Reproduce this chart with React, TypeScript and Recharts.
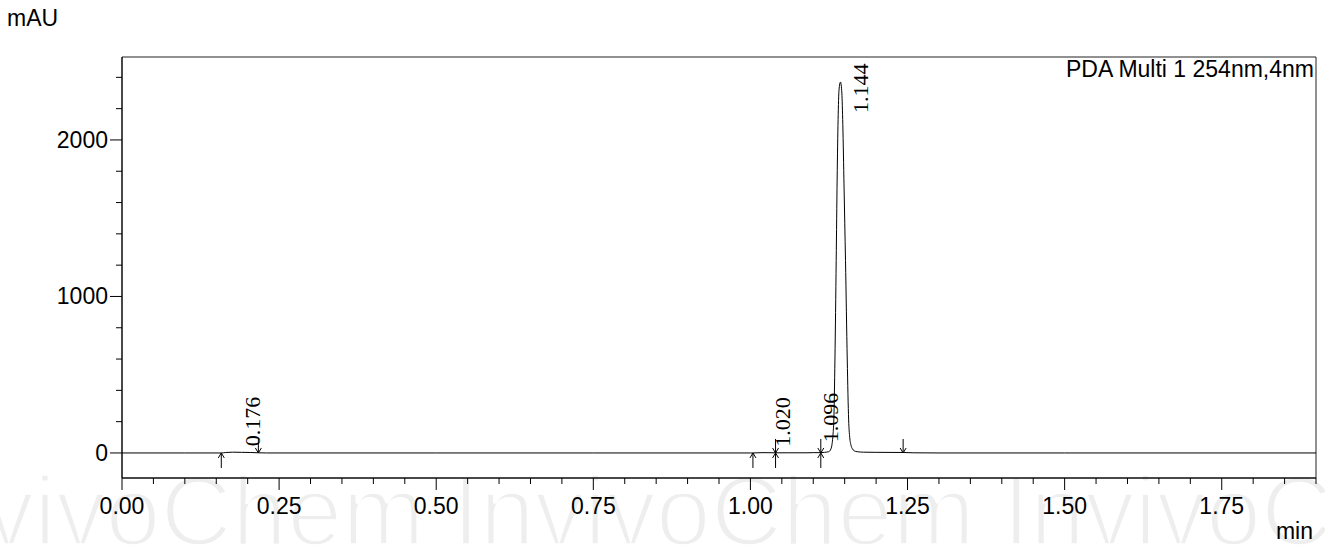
import { LineChart, Line, XAxis, YAxis, ReferenceDot, ReferenceArea } from 'recharts';

// retention time (min) and absorbance (mAU)
const times = [
  0, 0.1, 0.158, 0.165, 0.176, 0.19, 0.205, 0.217, 0.23, 0.5, 0.75, 1.0, 1.003, 1.02, 1.04, 1.06, 1.09, 1.1,
  1.1115, 1.118, 1.1246, 1.128, 1.13, 1.1315, 1.1327, 1.1345, 1.1365, 1.138, 1.1395, 1.141, 1.1433,
  1.1455, 1.147, 1.149, 1.1513, 1.1541, 1.1563, 1.158, 1.16, 1.1625, 1.165, 1.17, 1.18, 1.2, 1.243,
  1.26, 1.3, 1.5, 1.9,
];
const mAU = [
  0, 0, 0, 3, 5, 4, 3, 1, 0, 0, 0, 0, 0, 2, 1, 1, 1, 2,
  2, 4, 8, 25, 60, 120, 210, 600, 1230, 1750, 2130, 2320, 2370,
  2300, 2100, 1700, 1230, 594, 211, 100, 50, 25, 14, 8, 5, 4, 3,
  1, 0, 0, 0,
];

const peakTimes = [0.176, 1.02, 1.096, 1.144];
const peakHeights = [5, 2, 30, 2370];

const markerTimes = [0.158, 0.217, 1.004, 1.04, 1.112, 1.243];
const markerKinds = ['up', 'down', 'up', 'cross', 'cross', 'down'];

const xTicks = [
  0, 0.05, 0.1, 0.15, 0.2, 0.25, 0.3, 0.35, 0.4, 0.45, 0.5, 0.55, 0.6, 0.65, 0.7, 0.75, 0.8, 0.85, 0.9,
  0.95, 1.0, 1.05, 1.1, 1.15, 1.2, 1.25, 1.3, 1.35, 1.4, 1.45, 1.5, 1.55, 1.6, 1.65, 1.7, 1.75, 1.8, 1.85, 1.9,
];
const yTicks = [0, 200, 400, 600, 800, 1000, 1200, 1400, 1600, 1800, 2000, 2200, 2400];

const data = times.map((t, i) => ({ t, v: mAU[i] }));

const W = 1325;
const H = 546;
const MARGIN = { top: 57, right: 9, bottom: 28, left: 62 };
const SANS = '"Liberation Sans", Arial, sans-serif';
const SERIF = '"Liberation Serif", "Times New Roman", serif';

const XTick = (props: any) => {
  const { x, y, payload } = props;
  const v = payload.value;
  const major = Math.abs(v * 4 - Math.round(v * 4)) < 1e-6;
  return (
    <g>
      <line x1={x} y1={y} x2={x} y2={y + (major ? 12 : 6)} stroke="#000" />
      {major && (
        <text x={x} y={y + 36} textAnchor="middle" fontSize={23} fontFamily={SANS} fill="#000">
          {v.toFixed(2)}
        </text>
      )}
    </g>
  );
};

const YTick = (props: any) => {
  const { x, y, payload } = props;
  const v = payload.value;
  const major = v % 1000 === 0;
  return (
    <g>
      <line x1={x - (major ? 12 : 6)} y1={y} x2={x} y2={y} stroke="#000" />
      {major && (
        <text x={x - 14} y={y + 8} textAnchor="end" fontSize={23} fontFamily={SANS} fill="#000">
          {v}
        </text>
      )}
    </g>
  );
};

const arrow = (kind: string) => (props: any) => {
  const { cx, cy } = props;
  const up = (
    <g key="u">
      <line x1={cx} y1={cy} x2={cx} y2={cy + 15} stroke="#000" />
      <polyline points={`${cx - 3},${cy + 5} ${cx},${cy} ${cx + 3},${cy + 5}`} fill="none" stroke="#000" />
    </g>
  );
  const down = (
    <g key="d">
      <line x1={cx} y1={cy - 14} x2={cx} y2={cy} stroke="#000" />
      <polyline points={`${cx - 3},${cy - 5} ${cx},${cy} ${cx + 3},${cy - 5}`} fill="none" stroke="#000" />
    </g>
  );
  if (kind === 'up') return up;
  if (kind === 'down') return down;
  return <g>{up}{down}</g>;
};

const peakLabel = (text: string) => (props: any) => {
  const { cx, cy } = props;
  const x = cx + 27;
  const y = Math.max(cy - 6, MARGIN.top + 7 + 49);
  return (
    <text x={x} y={y} transform={`rotate(-90, ${x}, ${y})`} fontSize={22} fontFamily={SERIF} fill="#000">
      {text}
    </text>
  );
};

export default function App() {
  return (
    <div style={{ position: 'absolute', left: 0, top: 0, width: W, height: H, background: '#fff' }}>
      <svg width={W} height={H} style={{ position: 'absolute', left: 0, top: 0 }}>
        {/* white stroke over the fill thins the glyphs to look like a light face */}
        <text
          x={-98}
          y={545}
          fontSize={99}
          fontFamily={SANS}
          fill="#eeeeee"
          stroke="#fff"
          strokeWidth={3.5}
          style={{ paintOrder: 'fill stroke' }}
        >
          InvivoChem InvivoChem InvivoChem
        </text>
        <text x={7} y={26} fontSize={23} fontFamily={SANS} fill="#000">mAU</text>
        <text x={1313} y={539} textAnchor="end" fontSize={23} fontFamily={SANS} fill="#000">min</text>
        <text x={1314} y={77} textAnchor="end" fontSize={23} fontFamily={SANS} fill="#000">
          PDA Multi 1 254nm,4nm
        </text>
      </svg>
      <div style={{ position: 'absolute', left: 0, top: 0 }}>
        <LineChart width={W} height={H} data={data} margin={MARGIN}>
          <ReferenceArea x1={0} x2={1.9} y1={-160} y2={2530} fill="none" stroke="#222" ifOverflow="visible" />
          <XAxis
            dataKey="t"
            type="number"
            domain={[0, 1.9]}
            ticks={xTicks}
            interval={0}
            height={40}
            tickSize={0}
            tickMargin={0}
            tickLine={false}
            tick={XTick}
            axisLine={{ stroke: '#000' }}
            allowDataOverflow
          />
          <YAxis
            type="number"
            domain={[-160, 2530]}
            ticks={yTicks}
            interval={0}
            width={60}
            tickSize={0}
            tickMargin={0}
            tickLine={false}
            tick={YTick}
            axisLine={{ stroke: '#000' }}
            allowDataOverflow
          />
          <Line
            type="monotone"
            dataKey="v"
            stroke="#000"
            strokeWidth={1}
            dot={false}
            activeDot={false}
            isAnimationActive={false}
          />
          {markerTimes.map((t, i) => (
            <ReferenceDot key={`m${i}`} x={t} y={0} r={0} ifOverflow="visible" shape={arrow(markerKinds[i])} />
          ))}
          {peakTimes.map((t, i) => (
            <ReferenceDot
              key={`p${i}`}
              x={t}
              y={peakHeights[i]}
              r={0}
              ifOverflow="visible"
              shape={peakLabel(t.toFixed(3))}
            />
          ))}
        </LineChart>
      </div>
    </div>
  );
}
